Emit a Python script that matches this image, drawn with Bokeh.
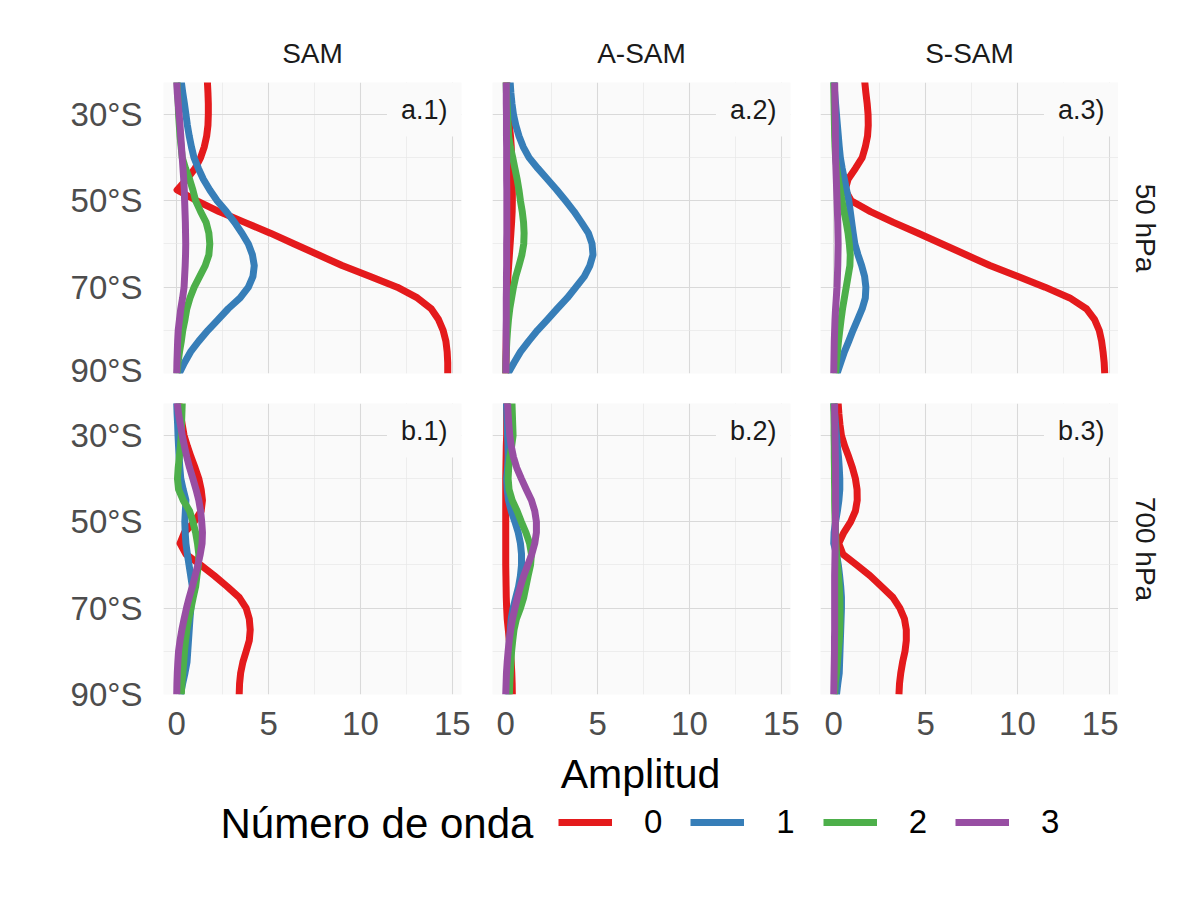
import math
from bokeh.plotting import figure
from bokeh.layouts import column, row
from bokeh.models import Range1d, FixedTicker, Label, Legend, LegendItem, Title
from bokeh.embed import file_html
from bokeh.resources import INLINE

# ---------------- data ----------------
lat = [-20, -22.5, -25, -27.5, -30, -32.5, -35, -37.5, -40, -42.5, -45, -47.5, -50, -52.5,
       -55, -57.5, -60, -62.5, -65, -67.5, -70, -72.5, -75, -77.5, -80, -82.5, -85, -87.5, -90]

# 50 hPa
sam50_w0 = [1.65, 1.67, 1.70, 1.72, 1.72, 1.70, 1.63, 1.50, 1.30, 1.00, 0.55, 0.02, 1.10, 2.30, 3.70, 5.10, 6.40, 7.70, 9.00, 10.50, 12.00, 13.10, 13.85, 14.25, 14.50, 14.65, 14.72, 14.75, 14.75]
sam50_w1 = [0.18, 0.25, 0.33, 0.42, 0.50, 0.58, 0.68, 0.80, 0.94, 1.18, 1.45, 1.80, 2.20, 2.70, 3.15, 3.55, 3.90, 4.12, 4.22, 4.15, 3.90, 3.45, 2.80, 2.25, 1.70, 1.20, 0.75, 0.42, 0.13]
sam50_w2 = [0.00, 0.02, 0.05, 0.08, 0.10, 0.14, 0.18, 0.24, 0.30, 0.48, 0.70, 0.88, 1.03, 1.30, 1.60, 1.75, 1.80, 1.75, 1.55, 1.25, 0.95, 0.72, 0.55, 0.45, 0.33, 0.25, 0.15, 0.07, 0.02]
sam50_w3 = [0.00, 0.00, 0.03, 0.08, 0.13, 0.18, 0.22, 0.26, 0.30, 0.34, 0.38, 0.41, 0.43, 0.45, 0.47, 0.48, 0.49, 0.48, 0.46, 0.43, 0.40, 0.32, 0.22, 0.15, 0.08, 0.05, 0.03, 0.01, 0.00]

asam50_w0 = [0.05, 0.07, 0.10, 0.12, 0.15, 0.20, 0.26, 0.30, 0.32, 0.34, 0.35, 0.36, 0.36, 0.35, 0.32, 0.28, 0.24, 0.20, 0.16, 0.12, 0.10, 0.08, 0.06, 0.05, 0.04, 0.03, 0.02, 0.01, 0.00]
asam50_w1 = [0.18, 0.24, 0.28, 0.34, 0.42, 0.55, 0.72, 0.95, 1.27, 1.75, 2.27, 2.78, 3.26, 3.72, 4.12, 4.50, 4.70, 4.75, 4.58, 4.28, 3.82, 3.35, 2.80, 2.27, 1.73, 1.25, 0.80, 0.45, 0.12]
asam50_w2 = [0.00, 0.02, 0.04, 0.07, 0.10, 0.13, 0.16, 0.25, 0.38, 0.50, 0.62, 0.72, 0.80, 0.90, 0.97, 1.00, 0.98, 0.88, 0.72, 0.55, 0.42, 0.32, 0.22, 0.15, 0.10, 0.06, 0.03, 0.01, 0.00]
asam50_w3 = [0.03, 0.03, 0.03, 0.03, 0.04, 0.04, 0.04, 0.05, 0.05, 0.05, 0.05, 0.06, 0.06, 0.06, 0.06, 0.06, 0.05, 0.05, 0.05, 0.04, 0.04, 0.03, 0.03, 0.03, 0.02, 0.02, 0.02, 0.01, 0.01]

ssam50_w0 = [1.65, 1.69, 1.75, 1.82, 1.87, 1.88, 1.84, 1.72, 1.55, 1.18, 0.78, 0.62, 0.95, 2.00, 3.25, 4.60, 5.90, 7.20, 8.50, 10.00, 11.50, 12.85, 13.75, 14.20, 14.45, 14.58, 14.66, 14.72, 14.75]
ssam50_w1 = [0.00, 0.02, 0.05, 0.10, 0.15, 0.20, 0.25, 0.30, 0.36, 0.46, 0.58, 0.70, 0.82, 0.90, 0.98, 1.06, 1.15, 1.32, 1.52, 1.68, 1.75, 1.72, 1.55, 1.30, 1.05, 0.82, 0.58, 0.38, 0.18]
ssam50_w2 = [0.00, 0.00, 0.01, 0.02, 0.03, 0.04, 0.05, 0.07, 0.10, 0.17, 0.25, 0.35, 0.45, 0.56, 0.68, 0.78, 0.85, 0.90, 0.88, 0.78, 0.68, 0.58, 0.48, 0.40, 0.33, 0.26, 0.20, 0.14, 0.10]
ssam50_w3 = [0.05, 0.05, 0.06, 0.07, 0.08, 0.09, 0.09, 0.10, 0.10, 0.12, 0.14, 0.16, 0.18, 0.20, 0.22, 0.23, 0.24, 0.23, 0.22, 0.20, 0.18, 0.14, 0.10, 0.07, 0.05, 0.03, 0.02, 0.01, 0.00]

# 700 hPa
sam700_w0 = [0.05, 0.12, 0.20, 0.30, 0.40, 0.58, 0.78, 1.00, 1.20, 1.33, 1.40, 1.33, 0.95, 0.42, 0.18, 0.50, 1.30, 2.05, 2.75, 3.40, 3.78, 3.95, 4.00, 3.95, 3.78, 3.60, 3.48, 3.42, 3.40]
sam700_w1 = [0.00, 0.00, 0.02, 0.05, 0.07, 0.10, 0.13, 0.17, 0.22, 0.35, 0.50, 0.47, 0.44, 0.46, 0.50, 0.58, 0.67, 0.76, 0.85, 0.82, 0.77, 0.72, 0.68, 0.64, 0.60, 0.56, 0.45, 0.32, 0.20]
sam700_w2 = [0.33, 0.30, 0.28, 0.26, 0.25, 0.20, 0.14, 0.08, 0.04, 0.10, 0.35, 0.70, 0.88, 1.03, 1.13, 1.20, 1.18, 1.10, 1.03, 0.90, 0.78, 0.65, 0.55, 0.48, 0.42, 0.38, 0.33, 0.28, 0.25]
sam700_w3 = [0.00, 0.03, 0.10, 0.20, 0.30, 0.42, 0.55, 0.70, 0.88, 1.05, 1.20, 1.30, 1.36, 1.40, 1.38, 1.28, 1.15, 1.00, 0.85, 0.68, 0.53, 0.40, 0.28, 0.18, 0.10, 0.06, 0.03, 0.01, 0.00]

asam700_w0 = [0.05, 0.05, 0.05, 0.05, 0.05, 0.03, 0.02, 0.01, 0.00, 0.00, 0.00, 0.00, 0.00, 0.00, 0.00, 0.00, 0.00, 0.01, 0.02, 0.03, 0.05, 0.08, 0.14, 0.20, 0.25, 0.30, 0.33, 0.35, 0.36]
asam700_w1 = [0.03, 0.04, 0.06, 0.08, 0.10, 0.12, 0.13, 0.10, 0.05, 0.08, 0.15, 0.30, 0.50, 0.68, 0.80, 0.86, 0.86, 0.80, 0.70, 0.55, 0.40, 0.30, 0.25, 0.22, 0.20, 0.18, 0.16, 0.14, 0.13]
asam700_w2 = [0.33, 0.34, 0.36, 0.38, 0.40, 0.32, 0.22, 0.16, 0.13, 0.18, 0.35, 0.62, 0.85, 1.10, 1.30, 1.40, 1.35, 1.22, 1.10, 0.98, 0.80, 0.58, 0.45, 0.38, 0.32, 0.28, 0.25, 0.22, 0.20]
asam700_w3 = [0.07, 0.10, 0.13, 0.17, 0.22, 0.30, 0.42, 0.60, 0.85, 1.12, 1.40, 1.58, 1.67, 1.67, 1.58, 1.42, 1.20, 0.98, 0.80, 0.64, 0.50, 0.37, 0.27, 0.19, 0.13, 0.08, 0.04, 0.02, 0.00]

ssam700_w0 = [0.18, 0.24, 0.28, 0.34, 0.42, 0.60, 0.82, 1.02, 1.18, 1.27, 1.28, 1.18, 0.92, 0.55, 0.27, 0.50, 1.25, 1.98, 2.60, 3.22, 3.60, 3.85, 3.95, 3.95, 3.88, 3.75, 3.65, 3.58, 3.55]
ssam700_w1 = [0.00, 0.00, 0.05, 0.10, 0.15, 0.20, 0.26, 0.30, 0.33, 0.33, 0.28, 0.20, 0.10, 0.02, 0.00, 0.15, 0.25, 0.32, 0.38, 0.42, 0.42, 0.40, 0.38, 0.36, 0.34, 0.32, 0.30, 0.22, 0.15]
ssam700_w2 = [0.00, 0.00, 0.01, 0.02, 0.02, 0.03, 0.03, 0.04, 0.04, 0.05, 0.05, 0.06, 0.08, 0.10, 0.12, 0.15, 0.20, 0.26, 0.30, 0.33, 0.34, 0.34, 0.33, 0.30, 0.25, 0.20, 0.15, 0.08, 0.05]
ssam700_w3 = [0.05, 0.05, 0.05, 0.06, 0.07, 0.08, 0.09, 0.10, 0.10, 0.10, 0.10, 0.10, 0.09, 0.08, 0.08, 0.07, 0.06, 0.05, 0.05, 0.05, 0.05, 0.05, 0.05, 0.04, 0.04, 0.03, 0.02, 0.01, 0.00]

column_names = ["SAM", "A-SAM", "S-SAM"]
level_names = ["50 hPa", "700 hPa"]
panel_tags = [["a.1)", "a.2)", "a.3)"], ["b.1)", "b.2)", "b.3)"]]
wave_labels = ["0", "1", "2", "3"]
amp_ticks = [0, 5, 10, 15]
amp_minor = [2.5, 7.5, 12.5]
lat_ticks = [-90, -70, -50, -30]
lat_minor = [-80, -60, -40]
lat_tick_labels = ["90°S", "70°S", "50°S", "30°S"]
AMP_RANGE = (-0.72, 15.5)
LAT_RANGE = (-90, -22.6)

panel_data = [
    [[sam50_w0, sam50_w1, sam50_w2, sam50_w3],
     [asam50_w0, asam50_w1, asam50_w2, asam50_w3],
     [ssam50_w0, ssam50_w1, ssam50_w2, ssam50_w3]],
    [[sam700_w0, sam700_w1, sam700_w2, sam700_w3],
     [asam700_w0, asam700_w1, asam700_w2, asam700_w3],
     [ssam700_w0, ssam700_w1, ssam700_w2, ssam700_w3]],
]

# ---------------- style ----------------
FONT = "Liberation Sans"
WAVE_COLORS = ["#E41A1C", "#377EB8", "#4DAF4A", "#984EA3"]
PANEL_BG = "#FAFAFA"
GRID_MAJOR = "#D9D9D9"
GRID_MINOR = "#E6E6E6"
TICK_COLOR = "#4D4D4D"
STRIP_COLOR = "#1A1A1A"
LINE_W = 7

FRAME_W, FRAME_H = 298, 291
STRIP_W = 74
col_borders = [(163, 15), (16, 15), (15, 0)]
row_borders = [(82, 15), (15, 56)]


def make_label(**kw):
    try:
        return Label(padding=(14, 12), **kw)
    except Exception:
        return Label(padding=12, **kw)


def make_panel(r, c):
    left, right = col_borders[c]
    top, bottom = row_borders[r]
    p = figure(width=left + FRAME_W + right, height=top + FRAME_H + bottom,
               x_range=Range1d(*AMP_RANGE), y_range=Range1d(*LAT_RANGE),
               x_axis_location="below" if r == 1 else None,
               y_axis_location="left" if c == 0 else None,
               toolbar_location=None, output_backend="svg", title=None,
               min_border_left=left, min_border_right=right,
               min_border_top=top, min_border_bottom=bottom)
    p.background_fill_color = PANEL_BG
    p.border_fill_color = "white"
    p.outline_line_color = None

    p.xgrid.ticker = FixedTicker(ticks=amp_ticks, minor_ticks=amp_minor)
    p.ygrid.ticker = FixedTicker(ticks=lat_ticks, minor_ticks=lat_minor)
    for g in list(p.xgrid) + list(p.ygrid):
        g.grid_line_color = GRID_MAJOR
        g.grid_line_width = 1.1
        g.minor_grid_line_color = GRID_MINOR
        g.minor_grid_line_width = 0.7

    if r == 1:
        ax = p.xaxis[0]
        ax.ticker = FixedTicker(ticks=amp_ticks)
        ax.axis_line_color = None
        ax.major_tick_line_color = None
        ax.minor_tick_line_color = None
        ax.major_label_standoff = 11
        ax.major_label_text_font = FONT
        ax.major_label_text_font_size = "33px"
        ax.major_label_text_color = TICK_COLOR
    if c == 0:
        ay = p.yaxis[0]
        ay.ticker = FixedTicker(ticks=lat_ticks)
        ay.major_label_overrides = {t: s for t, s in zip(lat_ticks, lat_tick_labels)}
        ay.axis_line_color = None
        ay.major_tick_line_color = None
        ay.minor_tick_line_color = None
        ay.major_label_standoff = 15
        ay.major_label_text_font = FONT
        ay.major_label_text_font_size = "33px"
        ay.major_label_text_color = TICK_COLOR

    for w, amps in enumerate(panel_data[r][c]):
        p.line(x=amps, y=lat, line_color=WAVE_COLORS[w], line_width=LINE_W,
               line_join="round")

    p.add_layout(make_label(x=FRAME_W, y=FRAME_H, x_units="screen", y_units="screen",
                            text=panel_tags[r][c], text_align="right", text_baseline="top",
                            text_font=FONT, text_font_size="27px", text_color=STRIP_COLOR,
                            background_fill_color=PANEL_BG))
    if r == 0:
        p.add_layout(Title(text=column_names[c], align="center", standoff=27,
                           text_font=FONT, text_font_size="28px", text_font_style="normal",
                           text_color=STRIP_COLOR), "above")
    return p


def make_strip(r):
    top, bottom = row_borders[r]
    s = figure(width=STRIP_W, height=top + FRAME_H + bottom,
               x_range=Range1d(0, 1), y_range=Range1d(0, 1),
               x_axis_location=None, y_axis_location=None,
               toolbar_location=None, output_backend="svg", title=None,
               min_border_left=0, min_border_right=0,
               min_border_top=top, min_border_bottom=bottom)
    s.outline_line_color = None
    s.background_fill_color = "white"
    s.border_fill_color = "white"
    for g in s.grid:
        g.visible = False
    s.add_layout(Label(x=27, y=FRAME_H / 2, x_units="screen", y_units="screen",
                       text=level_names[r], angle=-math.pi / 2,
                       text_align="center", text_baseline="middle",
                       text_font=FONT, text_font_size="28px", text_color=STRIP_COLOR))
    return s


rows = [row(*([make_panel(r, c) for c in range(3)] + [make_strip(r)])) for r in range(2)]

# ---------------- bottom: axis title and legend ----------------
pb = figure(width=1192, height=142, x_range=Range1d(0, 1), y_range=Range1d(0, 1),
            x_axis_location=None, y_axis_location=None, toolbar_location=None,
            output_backend="svg", title=None, min_border=0,
            min_border_left=0, min_border_right=0, min_border_top=0, min_border_bottom=0)
pb.outline_line_color = None
pb.background_fill_color = "white"
pb.border_fill_color = "white"
for g in pb.grid:
    g.visible = False

pb.add_layout(Label(x=640, y=119, x_units="screen", y_units="screen", text="Amplitud",
                    text_align="center", text_baseline="middle", text_font=FONT,
                    text_font_size="41px", text_color="black"))
pb.add_layout(Label(x=220, y=69, x_units="screen", y_units="screen", text="Número de onda",
                    text_align="left", text_baseline="middle", text_font=FONT,
                    text_font_size="42px", text_color="black"))

items = []
for w, lab in enumerate(wave_labels):
    rr = pb.line(x=[float("nan")], y=[float("nan")], line_color=WAVE_COLORS[w],
                 line_width=LINE_W)
    items.append(LegendItem(label=lab, renderers=[rr]))
legend = Legend(items=items, orientation="horizontal", location=(558, 51),
                glyph_width=54, glyph_height=36, label_standoff=32, label_width=18,
                label_height=36, spacing=28, padding=0, margin=0,
                border_line_color=None, background_fill_alpha=0,
                label_text_font=FONT, label_text_font_size="33px",
                label_text_color="black")
pb.add_layout(legend, "center")

layout = column(rows[0], rows[1], pb)
open("out.html", "w").write(file_html(layout, INLINE, title="Amplitud por número de onda"))
